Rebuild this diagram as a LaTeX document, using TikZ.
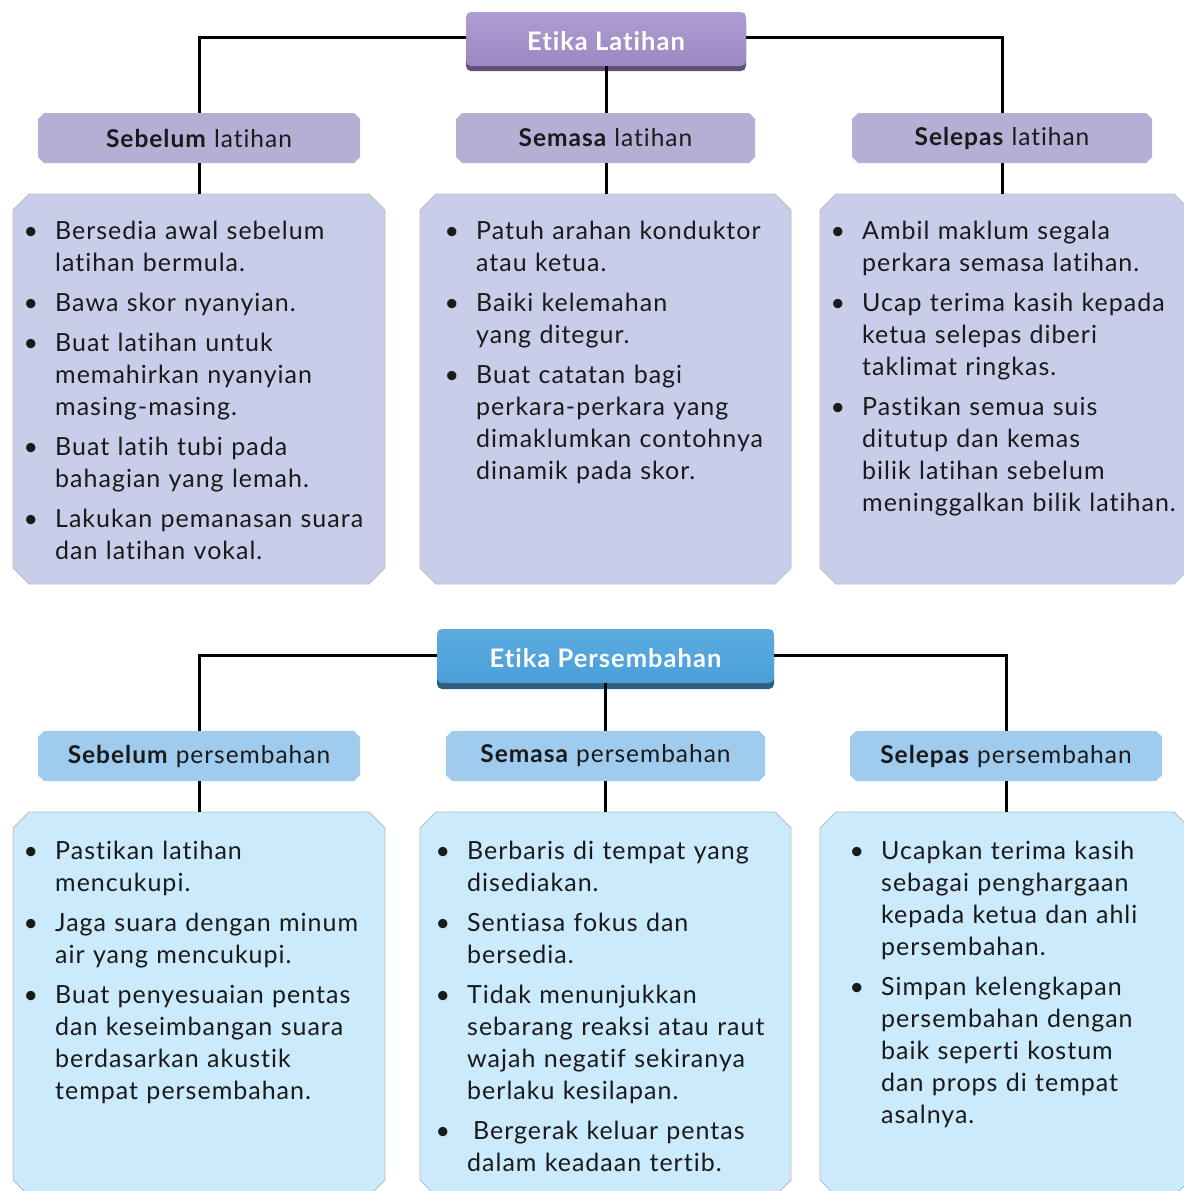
\documentclass[tikz,border=0pt]{standalone}
\usepackage{fontspec}
\setmainfont{Lato}[LetterSpace=4, Ligatures={NoCommon}]
\usepackage{enumitem}
\definecolor{tpurple}{HTML}{9C88C2}
\definecolor{tpurpletop}{HTML}{AE9DD2}
\definecolor{tpurpleshadow}{HTML}{5E5077}
\definecolor{spurple}{HTML}{B7AED6}
\definecolor{bpurple}{HTML}{C8CEEA}
\definecolor{tblue}{HTML}{4A9ED8}
\definecolor{tbluetop}{HTML}{5CACE0}
\definecolor{tblueshadow}{HTML}{2F5F80}
\definecolor{sblue}{HTML}{9FCCEE}
\definecolor{bblue}{HTML}{CBEAFB}
\definecolor{txt}{HTML}{1A1A1A}
\definecolor{edge}{HTML}{BDBDBD}
\tikzset{
  x=1pt, y=-1pt,
  conn/.style={line width=3pt, black},
  titlebox/.style={rounded corners=5pt, inner sep=0pt, text=white, text height=22pt, text depth=0pt,
     font=\fontsize{25.5}{30}\selectfont\bfseries},
  subtext/.style={font=\fontsize{24.5}{30}\selectfont, text=txt},
  bodytext/.style={inner sep=0pt, anchor=north west, text width=380pt,
     font=\fontsize{25}{32}\selectfont, text=txt},
}
\newcommand\chambox[8]{%
  \path[#7] ({#2+#6},#3) -- ({#4-#6},#3) -- (#4,{#3+#6}) -- (#4,{#5-#6}) --
    ({#4-#6},#5) -- ({#2+#6},#5) -- (#2,{#5-#6}) -- (#2,{#3+#6}) -- cycle;
  \node[inner sep=0pt, minimum width={(#4-#2)*1pt}, minimum height={(#5-#3)*1pt}, subtext]
    (#1) at ({(#2+#4)/2},{(#3+#5)/2}) {#8};
}
\newenvironment{blist}{\begin{itemize}[nosep, itemsep=8pt, leftmargin=0pt,
  labelwidth=0pt, labelsep=17pt, label=\textbullet]}{\end{itemize}}
\begin{document}
\begin{tikzpicture}
\useasboundingbox (0,0) rectangle (1183,1191);
\fill[white] (0,0) rectangle (1183,1191);

% ===== Etika Latihan =====
\fill[tpurpleshadow, rounded corners=5pt] (466,16) rectangle (746,71);
\node[titlebox, top color=tpurpletop, bottom color=tpurple, minimum width=280pt,
  minimum height=54pt] (t1) at (606,39) {Etika Latihan};

\chambox{s11}{38}{113}{360}{163}{6}{fill=spurple}{\textbf{Sebelum} latihan}
\chambox{s12}{456}{113}{755}{163}{6}{fill=spurple}{\textbf{Semasa} latihan}
\chambox{s13}{852}{113}{1152}{163}{6}{fill=spurple}{\textbf{Selepas} latihan}

\chambox{b11}{13}{194}{385}{584}{16}{fill=bpurple, draw=edge, line width=0.8pt}{}
\chambox{b12}{420}{194}{791}{584}{16}{fill=bpurple, draw=edge, line width=0.8pt}{}
\chambox{b13}{820}{194}{1190}{584}{16}{fill=bpurple, draw=edge, line width=0.8pt}{}

\draw[conn] ([yshift=2pt]t1.west) -| (s11.north);
\draw[conn] ([yshift=2pt]t1.east) -| (s13.north);
\draw[conn] (t1.south) -- (t1.south |- s12.north);
\draw[conn] (s11.south) -- (s11.south |- b11.north);
\draw[conn] (s12.south -| t1.south) -- (t1.south |- b12.north);
\draw[conn] (s13.south) -- (s13.south |- b13.north);

\node[bodytext] (x11) at (55,207) {\begin{blist}
\item Bersedia awal sebelum\\ latihan bermula.
\item Bawa skor nyanyian.
\item Buat latihan untuk\\ memahirkan nyanyian\\ masing-masing.
\item Buat latih tubi pada\\ bahagian yang lemah.
\item Lakukan pemanasan suara\\ dan latihan vokal.
\end{blist}};
\node[bodytext] (x12) at (476,207) {\begin{blist}
\item Patuh arahan konduktor\\ atau ketua.
\item Baiki kelemahan\\ yang ditegur.
\item Buat catatan bagi\\ perkara-perkara yang\\ dimaklumkan contohnya\\ dinamik pada skor.
\end{blist}};
\node[bodytext] (x13) at (862,207) {\begin{blist}
\item Ambil maklum segala\\ perkara semasa latihan.
\item Ucap terima kasih kepada\\ ketua selepas diberi\\ taklimat ringkas.
\item Pastikan semua suis\\ ditutup dan kemas\\ bilik latihan sebelum\\ meninggalkan bilik latihan.
\end{blist}};

% ===== Etika Persembahan =====
\fill[tblueshadow, rounded corners=5pt] (437,634) rectangle (774,689);
\node[titlebox, top color=tbluetop, bottom color=tblue, minimum width=337pt,
  minimum height=54pt] (t2) at (605.5,656) {Etika Persembahan};

\chambox{s21}{38}{731}{360}{781}{6}{fill=sblue}{\textbf{Sebelum} persembahan}
\chambox{s22}{446}{731}{765}{781}{6}{fill=sblue}{\textbf{Semasa} persembahan}
\chambox{s23}{850}{731}{1162}{781}{6}{fill=sblue}{\textbf{Selepas} persembahan}

\chambox{b21}{13}{812}{385}{1196}{16}{fill=bblue, draw=edge, line width=0.8pt}{}
\chambox{b22}{420}{812}{791}{1196}{16}{fill=bblue, draw=edge, line width=0.8pt}{}
\chambox{b23}{820}{812}{1190}{1196}{16}{fill=bblue, draw=edge, line width=0.8pt}{}

\draw[conn] ([yshift=1pt]t2.west) -| (s21.north);
\draw[conn] ([yshift=1pt]t2.east) -| (s23.north);
\draw[conn] (t2.south) -- (t2.south |- s22.north);
\draw[conn] (s21.south) -- (s21.south |- b21.north);
\draw[conn] (s22.south -| t2.south) -- (t2.south |- b22.north);
\draw[conn] (s23.south) -- (s23.south |- b23.north);

\node[bodytext] (x21) at (55,827) {\begin{blist}
\item Pastikan latihan\\ mencukupi.
\item Jaga suara dengan minum\\ air yang mencukupi.
\item Buat penyesuaian pentas\\ dan keseimbangan suara\\ berdasarkan akustik\\ tempat persembahan.
\end{blist}};
\node[bodytext] (x22) at (467,827) {\begin{blist}
\item Berbaris di tempat yang\\ disediakan.
\item Sentiasa fokus dan\\ bersedia.
\item Tidak menunjukkan\\ sebarang reaksi atau raut\\ wajah negatif sekiranya\\ berlaku kesilapan.
\item \hspace{6pt}Bergerak keluar pentas\\ dalam keadaan tertib.
\end{blist}};
\node[bodytext] (x23) at (881,827) {\begin{blist}
\item Ucapkan terima kasih\\ sebagai penghargaan\\ kepada ketua dan ahli\\ persembahan.
\item Simpan kelengkapan\\ persembahan dengan\\ baik seperti kostum\\ dan props di tempat\\ asalnya.
\end{blist}};
\end{tikzpicture}
\end{document}
